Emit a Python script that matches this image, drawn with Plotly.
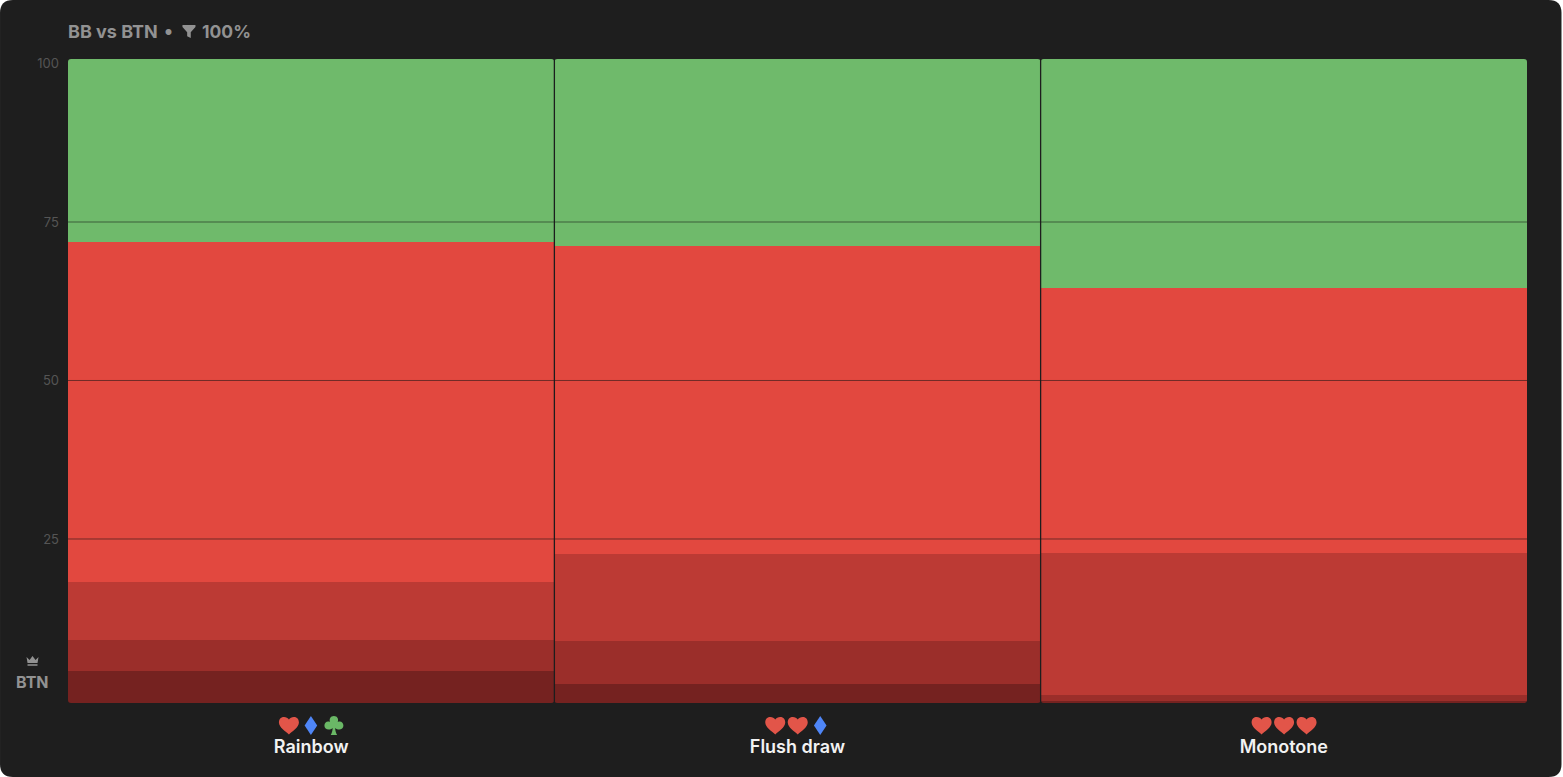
import re
import plotly.graph_objects as go

categories = ["Rainbow", "Flush draw", "Monotone"]
series_names = ["Dark 3", "Dark 2", "Dark 1", "Red", "Green"]
dark3 = [4.97, 2.95, 0.35]
dark2 = [4.74, 6.67, 0.89]
dark1 = [9.08, 13.51, 22.05]
red = [52.87, 47.82, 41.21]
green = [28.34, 29.05, 35.5]
tick_vals = [25, 50, 75, 100]
tick_labels = ["25", "50", "75", "100"]
colors = ["#752220", "#9b2e2a", "#bc3a34", "#e2483f", "#6fba6b"]

W, H = 1563, 777
L, R, T, B = 68, 1527.5, 59, 703
BG = "#1e1e1e"
GREY = "#929292"

fig = go.Figure()
for name, vals, col in zip(series_names, [dark3, dark2, dark1, red, green], colors):
    fig.add_trace(go.Bar(x=[0, 1, 2], y=vals, name=name, marker=dict(color=col, line_width=0),
                         hoverinfo="skip"))
fig.add_trace(go.Scatter(x=[0, 1, 2], y=[None] * 3, yaxis="y2", showlegend=False, hoverinfo="skip"))


def px(x):
    return (x - L) / (R - L)


def py(y):
    return (B - y) / (B - T)


r = 13
card = (f"M {px(0)},{py(r)} Q {px(0)},{py(0)} {px(r)},{py(0)} "
        f"L {px(1562-r)},{py(0)} Q {px(1562)},{py(0)} {px(1562)},{py(r)} "
        f"L {px(1562)},{py(H-r)} Q {px(1562)},{py(H)} {px(1562-r)},{py(H)} "
        f"L {px(r)},{py(H)} Q {px(0)},{py(H)} {px(0)},{py(H-r)} Z")
shapes = [dict(type="path", xref="paper", yref="paper", path=card, fillcolor=BG, line_width=0, layer="below")]

for v in tick_vals[:-1]:
    shapes.append(dict(type="line", xref="paper", yref="y2", x0=0, x1=1, y0=v, y1=v,
                       line=dict(color="rgba(20,20,20,0.55)", width=1), layer="above"))
for xv in [0.5, 1.5]:
    shapes.append(dict(type="line", xref="x", yref="paper", x0=xv, x1=xv, y0=0, y1=1,
                       line=dict(color="rgba(30,30,30,0.75)", width=1.4), layer="above"))

HEART = "M 0,-6 C -2,-9.5 -10,-10 -10,-3 C -10,2 -3,6 0,9 C 3,6 10,2 10,-3 C 10,-10 2,-9.5 0,-6 Z"
DIAMOND = "M 0,-9.5 L 6.3,0 L 0,9.5 L -6.3,0 Z"
CLUB = ("M 0,-9.5 C 3.4,-9.5 5,-6.5 3.8,-3.4 C 7,-5 9.5,-2.5 9.5,0.3 C 9.5,4 4.5,5.2 1.2,2.4 "
        "C 1.4,5 2,7.5 3.2,9.5 L -3.2,9.5 C -2,7.5 -1.4,5 -1.2,2.4 C -4.5,5.2 -9.5,4 -9.5,0.3 "
        "C -9.5,-2.5 -7,-5 -3.8,-3.4 C -5,-6.5 -3.4,-9.5 0,-9.5 Z")
FUNNEL = "M -6.5,-6.5 L 6.5,-6.5 L 6.5,-4.5 L 1.8,0.8 L 1.8,6.5 L -1.8,4.8 L -1.8,0.8 L -6.5,-4.5 Z"
CROWN = "M -6,-4.4 L -3,-1.6 L 0,-5.4 L 3,-1.6 L 6,-4.4 L 5,1.6 L -5,1.6 Z M -5,2.8 L 5,2.8 L 5,4.2 L -5,4.2 Z"


def flip(path):
    # icon outlines are written with y pointing down; pixel-sized shapes use y pointing up
    return re.sub(r"(-?[\d.]+),(-?[\d.]+)", lambda m: f"{m.group(1)},{-float(m.group(2))}", path)


def icon(path, xa, ya, color):
    shapes.append(dict(type="path", xref="paper", yref="paper", xsizemode="pixel", ysizemode="pixel",
                       xanchor=xa, yanchor=ya, path=flip(path), fillcolor=color, line_width=0,
                       layer="above"))


# rounded outer corners of each column: small background-coloured notches
CR = 3
col_edges = [(0.0, 1 / 3), (1 / 3, 2 / 3), (2 / 3, 1.0)]
for x0, x1 in col_edges:
    for xa, sx in [(x0, 1), (x1, -1)]:
        for ya, sy in [(1.0, 1), (0.0, -1)]:
            notch = f"M 0,0 L {sx*CR},0 Q 0,0 0,{sy*CR} Z"
            icon(notch, xa, ya, BG)

SR, SB, SG = "#e25549", "#4f86f7", "#6ab866"
for path, cx, col in [(HEART, 289, SR), (DIAMOND, 311, SB), (CLUB, 334, SG),
                      (HEART, 775.5, SR), (HEART, 798, SR), (DIAMOND, 820.5, SB),
                      (HEART, 1262, SR), (HEART, 1284.5, SR), (HEART, 1307, SR)]:
    icon(path, px(cx), py(725.5), col)
icon(FUNNEL, px(189), py(31.5), GREY)
icon(CROWN, px(32.5), py(661.5), GREY)

annotations = [
    dict(text="<b>BB vs BTN</b>", x=px(66), y=py(31.5), xref="paper", yref="paper", xanchor="left",
         yanchor="middle", showarrow=False, font=dict(family="Inter", size=18, color=GREY)),
    dict(text="<b>•</b>", x=px(169), y=py(31.5), xref="paper", yref="paper", xanchor="center",
         yanchor="middle", showarrow=False, font=dict(family="Inter", size=19, color=GREY)),
    dict(text="<b>100%</b>", x=px(200.5), y=py(31.5), xref="paper", yref="paper", xanchor="left",
         yanchor="middle", showarrow=False, font=dict(family="Inter", size=17.5, color=GREY)),
    dict(text="<b>BTN</b>", x=px(32.5), y=py(681.5), xref="paper", yref="paper", xanchor="center",
         yanchor="middle", showarrow=False, font=dict(family="Inter", size=16, color=GREY)),
]

fig.update_layout(
    width=W, height=H, barmode="stack", bargap=0.002,
    margin=dict(l=L, r=W - R, t=T, b=H - B, pad=0, autoexpand=False),
    paper_bgcolor="#ffffff", plot_bgcolor="rgba(0,0,0,0)", showlegend=False,
    font=dict(family="Inter"), shapes=shapes, annotations=annotations,
    xaxis=dict(range=[-0.5, 2.5], tickmode="array", tickvals=[0, 1, 2], ticktext=categories,
               showgrid=False, zeroline=False, showline=False, ticks="", ticklabelstandoff=31,
               tickfont=dict(family="Inter", size=18, color="#f2f2f2", weight=600)),
    yaxis=dict(range=[0, 100], showticklabels=False, showgrid=False, zeroline=False, showline=False, ticks=""),
    yaxis2=dict(overlaying="y", side="left", range=[-0.87, 100.71], tickmode="array",
                tickvals=tick_vals, ticktext=tick_labels, showgrid=False, zeroline=False, showline=False,
                ticks="", ticklabelstandoff=8, tickfont=dict(family="Inter", size=13, color="#555555")),
)

fig.write_html("out.html", config=dict(displayModeBar=False),
               post_script="document.body.style.margin='0';document.body.style.background='#fff';"
               "document.documentElement.style.overflow='hidden';")
